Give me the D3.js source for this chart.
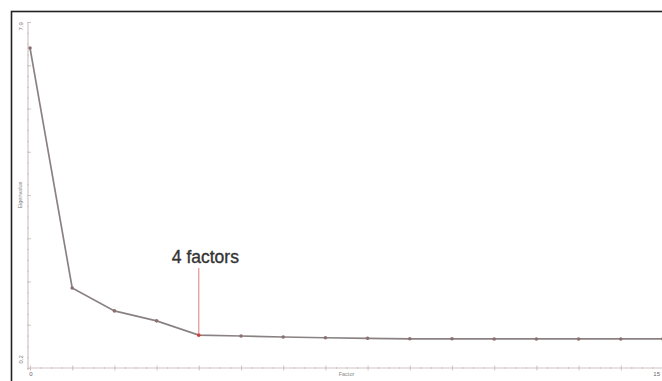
<!DOCTYPE html>
<html><head><meta charset="utf-8">
<script src="https://cdn.jsdelivr.net/npm/d3@7"></script>
<style>html,body{margin:0;padding:0;background:#fff;overflow:hidden}</style>
</head><body>
<svg id="c" width="662" height="381"></svg>
<script>
const factors = [0,1,2,3,4,5,6,7,8,9,10,11,12,13,14,15];
const eigenvalues = [7.40,1.85,1.32,1.09,0.76,0.74,0.717,0.70,0.687,0.675,0.675,0.672,0.672,0.672,0.672,0.672];
const xTickLabels = ["0","15"];
const yTickLabels = ["0.2","7.9"];
const yTickLabelValues = [0.2, 7.9];
const annotationFactor = 4;
const annotationText = "4 factors";
const xTitle = "Factor";
const yTitle = "Eigenvalue";

const svg = d3.select("#c");
svg.append("rect").attr("x",11.5).attr("y",11.5).attr("width",700).attr("height",400)
  .attr("fill","none").attr("stroke","#222").attr("stroke-width",1.6);

const x = d3.scaleLinear().domain([0,15]).range([30,663]);
const y = d3.scaleLinear().domain([0,8]).range([368,22]);
const axisCol = "#d2c4c4";

// x axis
const xAxisMinor = d3.axisBottom(x).tickValues(d3.range(0,15.01,0.25)).tickSize(2).tickFormat("");
const gx = svg.append("g").attr("transform",`translate(0,${y(0)})`);
gx.append("g").attr("transform","translate(0,-1)").call(xAxisMinor);
gx.append("g").attr("transform","translate(0,-2.5)").call(d3.axisBottom(x).tickValues(factors).tickSize(5).tickFormat(""));
gx.selectAll("line").attr("stroke",axisCol);
gx.selectAll(".domain").remove();
svg.append("line").attr("x1",x(0)-2).attr("x2",x(15)).attr("y1",y(0)).attr("y2",y(0)).attr("stroke",axisCol).attr("stroke-width",1.2);
svg.selectAll(".xl").data(xTickLabels).join("text").attr("class","xl")
  .attr("x",(d,i)=>i===0?x(+d)+1:660).attr("y",y(0)+8)
  .attr("text-anchor",(d,i)=>i===0?"middle":"end")
  .attr("font-family","Liberation Sans, Arial").attr("font-size",6).attr("fill","#666").text(d=>d);
svg.append("text").attr("x",(x(0)+x(15))/2).attr("y",y(0)+8).attr("text-anchor","middle")
  .attr("font-family","Liberation Sans, Arial").attr("font-size",5.5).attr("fill","#888").text(xTitle);

// y axis
const yx = 28;
const gy = svg.append("g").attr("transform",`translate(${yx+1},0)`);
gy.append("g").call(d3.axisLeft(y).tickValues(d3.range(0,8.01,0.25)).tickSize(2).tickFormat(""));
gy.append("g").attr("transform","translate(2,0)").call(d3.axisLeft(y).tickValues(d3.range(0,8.01,1)).tickSize(4).tickFormat(""));
gy.selectAll(".domain").remove();
gy.selectAll("line").attr("stroke",axisCol);
svg.append("line").attr("x1",yx).attr("x2",yx).attr("y1",y(8)).attr("y2",y(0)+2).attr("stroke",axisCol).attr("stroke-width",1.2);
svg.selectAll(".yl").data(yTickLabels).join("text").attr("class","yl")
  .attr("transform",(d,i)=>`translate(${yx-5},${y(yTickLabelValues[i])}) rotate(-90)`)
  .attr("text-anchor","middle")
  .attr("font-family","Liberation Sans, Arial").attr("font-size",6).attr("fill","#777").text(d=>d);
svg.append("text").attr("transform",`translate(${yx-6},195) rotate(-90)`).attr("text-anchor","middle")
  .attr("font-family","Liberation Sans, Arial").attr("font-size",5.5).attr("fill","#888").text(yTitle);

// line
const pts = factors.map((f,i)=>({f, v: eigenvalues[i]}));
svg.append("path").datum(pts)
  .attr("d", d3.line().x(d=>x(d.f)).y(d=>y(d.v)))
  .attr("fill","none").attr("stroke","#8a8282").attr("stroke-width",1.7);
svg.selectAll(".pt").data(pts).join("circle").attr("class","pt")
  .attr("cx",d=>x(d.f)).attr("cy",d=>y(d.v)).attr("r",1.8)
  .attr("fill",d=>d.f===annotationFactor?"#d43c3c":"#8a7070");

// annotation
const av = eigenvalues[factors.indexOf(annotationFactor)];
svg.append("line").attr("x1",x(annotationFactor)).attr("x2",x(annotationFactor))
  .attr("y1",268).attr("y2",y(av)-2).attr("stroke","#e07a7a").attr("stroke-width",1);
svg.append("text").attr("x",x(annotationFactor)-27).attr("y",263)
  .attr("font-family","Liberation Sans, Arial").attr("font-size",17.5).attr("fill","#333")
  .attr("stroke","#333").attr("stroke-width",0.35).text(annotationText);
</script>
</body></html>
